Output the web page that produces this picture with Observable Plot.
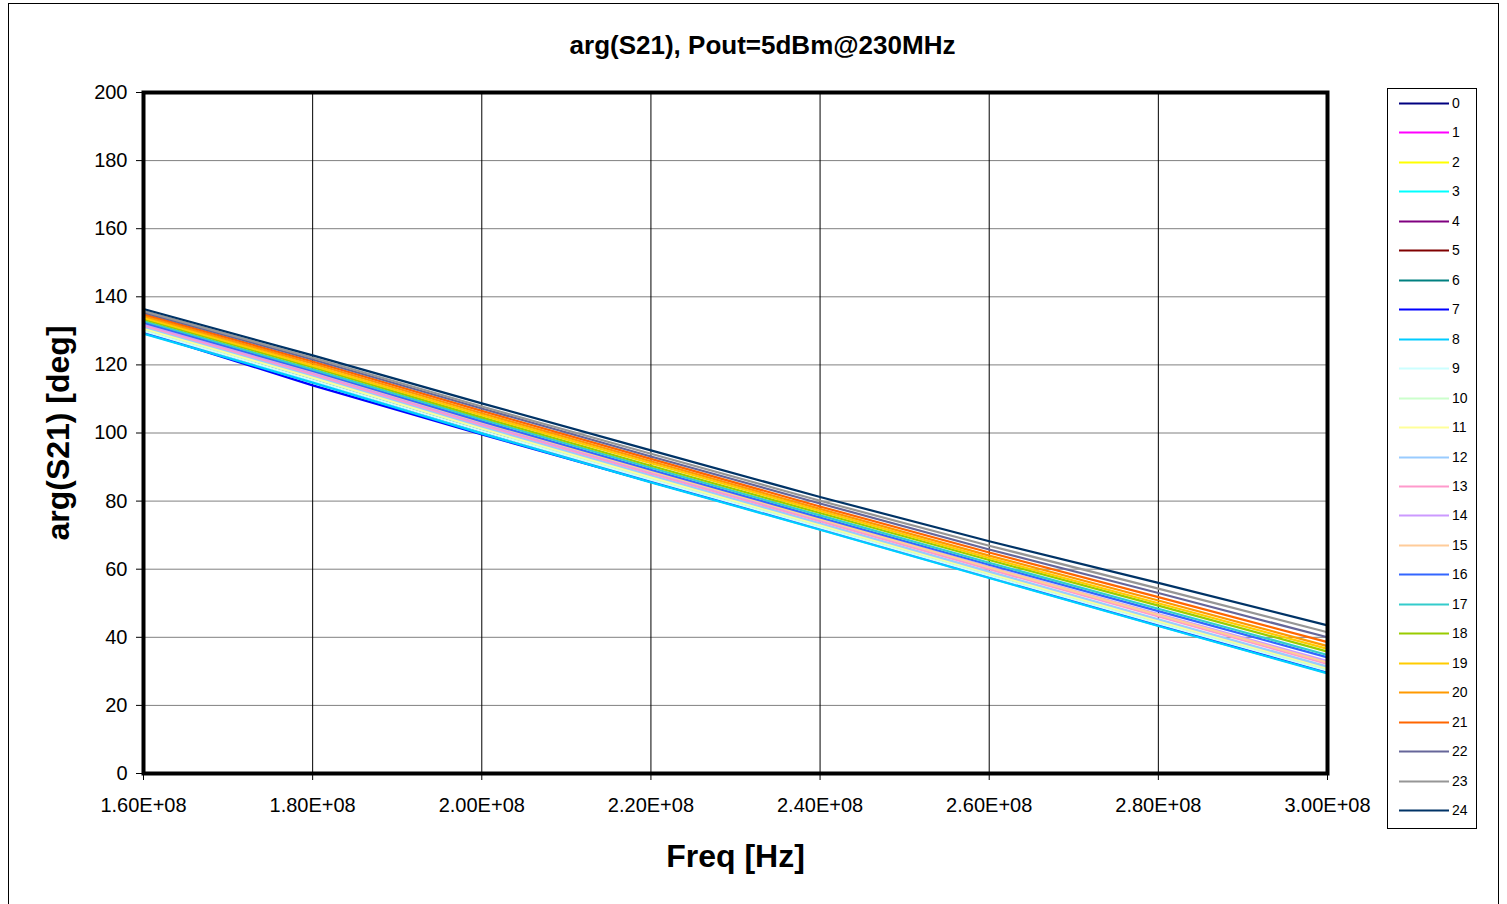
<!DOCTYPE html>
<html>
<head>
<meta charset="utf-8">
<script src="https://cdn.jsdelivr.net/npm/d3@7"></script>
<script src="https://cdn.jsdelivr.net/npm/@observablehq/plot@0.6"></script>
<style>
  html, body { margin: 0; padding: 0; background: #fff; }
  #wrap { position: relative; width: 1507px; height: 904px; overflow: hidden; font-family: "Liberation Sans", Arial, sans-serif; }
  #chartBorder { position: absolute; left: 8px; top: 3px; width: 1491px; height: 940px; border: 1px solid #000; box-sizing: border-box; }
  #plot { position: absolute; left: 0; top: 0; }
  #legend { position: absolute; left: 1387px; top: 88px; width: 90px; height: 741px; border: 1px solid #000; box-sizing: border-box; background: #fff; }
  .item { position: absolute; left: 0; height: 20px; width: 88px; }
  .item svg { position: absolute; left: 11px; top: 9px; }
  .item span { position: absolute; left: 64px; top: 2px; font-size: 14px; line-height: 16px; color: #000; }
</style>
</head>
<body>
<div id="wrap">
  <div id="chartBorder"></div>
  <div id="plot"></div>
  <div id="legend"></div>
</div>
<script>
// ---- data ----
const title = "arg(S21), Pout=5dBm@230MHz";
const xLabel = "Freq [Hz]";
const yLabel = "arg(S21) [deg]";
const freqs = [1.6e8, 1.8e8, 2.0e8, 2.2e8, 2.4e8, 2.6e8, 2.8e8, 3.0e8];
const xTicks = [1.6e8, 1.8e8, 2.0e8, 2.2e8, 2.4e8, 2.6e8, 2.8e8, 3.0e8];
const yTicks = [0, 20, 40, 60, 80, 100, 120, 140, 160, 180, 200];
const seriesNames = ["0","1","2","3","4","5","6","7","8","9","10","11","12","13","14","15","16","17","18","19","20","21","22","23","24"];
const seriesColors = ["#000080","#FF00FF","#FFFF00","#00FFFF","#800080","#800000","#008080","#0000FF","#00CCFF","#CCFFFF","#CCFFCC","#FFFF99","#99CCFF","#FF99CC","#CC99FF","#FFCC99","#3366FF","#33CCCC","#99CC00","#FFCC00","#FF9900","#FF6600","#666699","#969696","#003366"];
// phase [deg] per series at each frequency
const phase = [
  [129.8, 115.4, 100.4, 86.1, 72.1, 58.0, 43.9, 30.0],
  [130.0, 115.6, 100.7, 86.3, 72.4, 58.2, 44.2, 30.3],
  [130.2, 115.9, 100.9, 86.6, 72.6, 58.5, 44.4, 30.5],
  [129.3, 114.9,  99.9, 85.6, 71.7, 57.5, 43.4, 29.5],
  [130.3, 115.9, 101.0, 86.7, 72.7, 58.5, 44.5, 30.6],
  [130.5, 116.2, 101.2, 86.9, 72.9, 58.7, 44.7, 30.8],
  [130.6, 116.2, 101.3, 87.0, 73.0, 58.8, 44.8, 31.0],
  [129.6, 114.0,  99.6, 85.6, 71.9, 57.7, 43.6, 30.0],
  [129.2, 114.8,  99.8, 85.5, 71.6, 57.4, 43.3, 29.4],
  [130.0, 115.5, 100.6, 86.3, 72.3, 58.1, 44.1, 30.2],
  [130.5, 116.1, 101.2, 86.8, 72.8, 58.6, 44.6, 30.6],
  [130.8, 116.4, 101.5, 87.1, 73.1, 58.9, 44.9, 31.0],
  [131.2, 116.9, 101.9, 87.6, 73.5, 59.3, 45.3, 31.4],
  [131.6, 117.3, 102.4, 88.1, 74.1, 60.0, 46.1, 32.2],
  [132.0, 117.8, 102.9, 88.6, 74.6, 60.6, 46.8, 33.0],
  [132.4, 118.1, 103.2, 88.8, 74.7, 60.5, 46.6, 32.6],
  [132.4, 118.2, 103.4, 89.2, 75.2, 61.3, 47.7, 34.1],
  [132.9, 118.7, 104.0, 89.8, 75.8, 61.9, 48.4, 34.8],
  [133.4, 119.3, 104.6, 90.4, 76.5, 62.7, 49.3, 35.8],
  [133.9, 119.8, 105.2, 91.1, 77.1, 63.3, 50.0, 36.6],
  [134.4, 120.4, 105.8, 91.7, 77.7, 64.0, 50.8, 37.4],
  [134.9, 121.0, 106.5, 92.4, 78.4, 64.9, 51.8, 38.6],
  [135.4, 121.6, 107.2, 93.1, 79.3, 65.8, 53.0, 40.0],
  [135.8, 122.1, 107.8, 93.9, 80.1, 66.9, 54.3, 41.5],
  [136.4, 122.8, 108.7, 94.9, 81.2, 68.2, 56.0, 43.5]
];

// ---- build table ----
const rows = [];
phase.forEach((vals, i) => vals.forEach((v, k) => rows.push({freq: freqs[k], deg: v, s: seriesNames[i]})));

const chart = Plot.plot({
  width: 1507,
  height: 904,
  marginLeft: 143,
  marginRight: 180,
  marginTop: 92,
  marginBottom: 131,
  style: {fontFamily: "'Liberation Sans', Arial, sans-serif", fontSize: "20px", background: "transparent", color: "#000"},
  x: {domain: [1.6e8, 3.0e8]},
  y: {domain: [0, 200]},
  color: {domain: seriesNames, range: seriesColors},
  marks: [
    Plot.gridY(yTicks, {stroke: "#808080", strokeOpacity: 1, strokeWidth: 1}),
    Plot.gridX(xTicks, {stroke: "#000", strokeOpacity: 1, strokeWidth: 1}),
    Plot.line(rows, {x: "freq", y: "deg", z: "s", stroke: "s", strokeWidth: 2.2}),
    Plot.frame({stroke: "#000", strokeWidth: 4}),
    Plot.axisY(yTicks, {tickSize: 7, tickPadding: 9, label: null, tickFormat: d => String(d), fontSize: 20}),
    Plot.axisX(xTicks, {tickSize: 7, tickPadding: 17, label: null, tickFormat: d => (d / 1e8).toFixed(2) + "E+08", fontSize: 20}),
    Plot.text([xLabel], {frameAnchor: "bottom", dy: 83, lineAnchor: "middle", textAnchor: "middle", fontSize: 32, fontWeight: "bold"}),
    Plot.text([yLabel], {frameAnchor: "left", dx: -85, rotate: -90, lineAnchor: "middle", textAnchor: "middle", fontSize: 32, fontWeight: "bold"}),
    Plot.text([title], {frameAnchor: "top", dx: 27, dy: -47, lineAnchor: "middle", textAnchor: "middle", fontSize: 26, fontWeight: "bold"})
  ]
});
document.getElementById("plot").appendChild(chart);

// ---- legend ----
const legend = document.getElementById("legend");
seriesNames.forEach((name, i) => {
  const div = document.createElement("div");
  div.className = "item";
  div.style.top = (4 + i * 29.46) + "px";
  div.innerHTML = `<svg width="50" height="3"><line x1="0" y1="1.5" x2="50" y2="1.5" stroke="${seriesColors[i]}" stroke-width="2"/></svg><span>${name}</span>`;
  legend.appendChild(div);
});
</script>
</body>
</html>
